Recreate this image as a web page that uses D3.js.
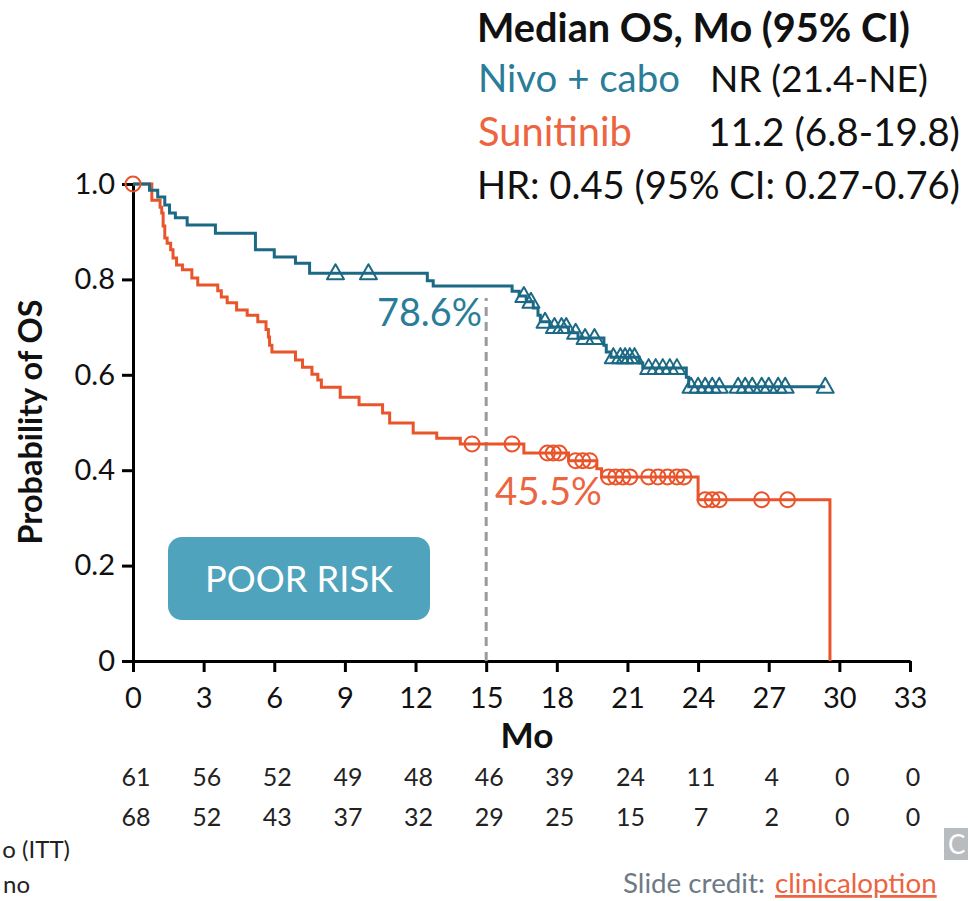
<!DOCTYPE html>
<html>
<head>
<meta charset="utf-8">
<script src="https://cdn.jsdelivr.net/npm/d3@7"></script>
<style>
  html, body { margin: 0; padding: 0; background: #fff; overflow: hidden; }
  svg { display: block; }
</style>
</head>
<body>
<svg id="chart" width="968" height="901"></svg>
<script>
// ---------------- DATA ----------------
const monthTicks = [0, 3, 6, 9, 12, 15, 18, 21, 24, 27, 30, 33];
const probTicks = [0, 0.2, 0.4, 0.6, 0.8, 1.0];
const probTickLabels = ["0", "0.2", "0.4", "0.6", "0.8", "1.0"];

// Kaplan-Meier steps: [month, survival after the step]
const nivoSteps = [
  [0, 1], [0.7, 0.987], [1.05, 0.973], [1.35, 0.956], [1.55, 0.939], [1.8, 0.929],
  [2.3, 0.914], [3.5, 0.897], [5.2, 0.862], [6.0, 0.847], [6.9, 0.834], [7.5, 0.813],
  [12.5, 0.797], [12.75, 0.786], [16.1, 0.775], [16.4, 0.765], [16.7, 0.753],
  [17.0, 0.740], [17.2, 0.725], [17.3, 0.711], [17.7, 0.700], [18.5, 0.688],
  [18.9, 0.677], [20.0, 0.662], [20.1, 0.648], [20.3, 0.637], [21.5, 0.625],
  [21.65, 0.614], [23.5, 0.595], [23.6, 0.575]
];
const nivoEnd = 29.4;
const nivoCensored = [8.6, 10.0, 16.6, 16.9, 17.5, 17.9, 18.2, 18.4, 18.8, 19.2, 19.6,
  20.4, 20.7, 20.9, 21.1, 21.3, 21.9, 22.2, 22.5, 22.8, 23.1, 23.7, 24.0, 24.3, 24.6,
  24.9, 25.7, 26.0, 26.3, 26.7, 27.0, 27.4, 27.7, 29.4];

const sunSteps = [
  [0, 1], [0.8, 0.966], [1.15, 0.951], [1.22, 0.939], [1.28, 0.912], [1.35, 0.887],
  [1.45, 0.876], [1.6, 0.862], [1.7, 0.845], [1.85, 0.830], [2.1, 0.820], [2.5, 0.803],
  [2.75, 0.788], [3.6, 0.776], [3.75, 0.763], [4.0, 0.751], [4.4, 0.736], [4.85, 0.725],
  [5.3, 0.711], [5.65, 0.695], [5.75, 0.679], [5.8, 0.662], [5.9, 0.648], [6.9, 0.631],
  [7.2, 0.616], [7.6, 0.601], [7.85, 0.589], [8.0, 0.574], [8.8, 0.553], [9.6, 0.537],
  [10.6, 0.520], [10.9, 0.499], [11.9, 0.478], [12.9, 0.467], [13.9, 0.455],
  [16.6, 0.436], [18.5, 0.420], [19.7, 0.403], [19.9, 0.386], [24.0, 0.338], [29.6, 0]
];
const sunEnd = 29.6;
const sunCensored = [0, 14.4, 16.1, 17.6, 17.85, 18.1, 18.8, 19.1, 19.4, 20.2, 20.5,
  20.8, 21.1, 21.9, 22.3, 22.7, 23.1, 23.4, 24.3, 24.6, 24.9, 26.7, 27.8];

const nivoAtRisk = [61, 56, 52, 49, 48, 46, 39, 24, 11, 4, 0, 0];
const sunAtRisk = [68, 52, 43, 37, 32, 29, 25, 15, 7, 2, 0, 0];

const landmarkMonth = 15;
const nivoLandmark = 0.786;
const sunLandmark = 0.455;

// ---------------- STYLE ----------------
const TEAL = "#1c6985";
const TEAL_TXT = "#2a7d99";
const ORANGE = "#e9542b";
const ORANGE_TXT = "#ec6440";
const FONT = "Lato, 'Open Sans', sans-serif";

const svg = d3.select("#chart");
const x = d3.scaleLinear().domain([0, 33]).range([133, 910]);
const y = d3.scaleLinear().domain([0, 1]).range([661, 184]);

function fit(sel, target) {
  const len = sel.node().getComputedTextLength();
  const fs = parseFloat(sel.attr("font-size"));
  sel.attr("font-size", (fs * target / len).toFixed(2));
  return sel;
}

function survAt(steps, t) {
  let s = steps[0][1];
  for (const st of steps) { if (st[0] <= t) s = st[1]; }
  return s;
}

// ---------------- AXES ----------------
const yAxis = svg.append("g")
  .attr("transform", `translate(${x(0)},0)`)
  .call(d3.axisLeft(y).tickValues(probTicks).tickSize(11).tickSizeOuter(0)
    .tickPadding(7).tickFormat((d, i) => probTickLabels[i]));
yAxis.select(".domain").attr("stroke", "#000").attr("stroke-width", 3);
yAxis.selectAll(".tick line").attr("stroke", "#000").attr("stroke-width", 3);
yAxis.selectAll(".tick text").attr("font-family", FONT).attr("font-size", 29)
  .attr("fill", "#111");

const xAxis = svg.append("g")
  .attr("transform", `translate(0,${y(0)})`)
  .call(d3.axisBottom(x).tickValues(monthTicks).tickSize(11).tickSizeOuter(0));
xAxis.select(".domain").attr("stroke", "#000").attr("stroke-width", 3);
xAxis.selectAll(".tick line").attr("stroke", "#000").attr("stroke-width", 3);
xAxis.selectAll(".tick text").attr("font-family", FONT).attr("font-size", 29)
  .attr("fill", "#111").attr("y", 47).attr("dy", null);

// axis titles
fit(svg.append("text").attr("x", 527).attr("y", 748).attr("text-anchor", "middle")
  .attr("font-family", FONT).attr("font-weight", "bold").attr("font-size", 28)
  .attr("fill", "#111").text("Mo"), 53);

fit(svg.append("text").attr("transform", "translate(42,422) rotate(-90)")
  .attr("text-anchor", "middle").attr("font-family", FONT).attr("font-weight", "bold")
  .attr("font-size", 26).attr("fill", "#111").text("Probability of OS"), 245);

// ---------------- POOR RISK BOX ----------------
svg.append("rect").attr("x", 168).attr("y", 537).attr("width", 262).attr("height", 83)
  .attr("rx", 14).attr("fill", "#4fa3bd");
fit(svg.append("text").attr("x", 299).attr("y", 592).attr("text-anchor", "middle")
  .attr("font-family", FONT).attr("font-size", 30).attr("fill", "#fff").text("POOR RISK"), 188);

// ---------------- LANDMARK ----------------
svg.append("line").attr("x1", x(landmarkMonth)).attr("x2", x(landmarkMonth))
  .attr("y1", y(0)).attr("y2", y(nivoLandmark) + 12)
  .attr("stroke", "#9a9a9a").attr("stroke-width", 3).attr("stroke-dasharray", "9,6");

// ---------------- CURVES ----------------
const line = d3.line().x(d => x(d[0])).y(d => y(d[1])).curve(d3.curveStepAfter);

function curvePts(steps, end) {
  const pts = steps.slice();
  const last = pts[pts.length - 1];
  if (last[0] < end) pts.push([end, last[1]]);
  return pts;
}

svg.append("path").datum(curvePts(sunSteps, sunEnd)).attr("d", line)
  .attr("fill", "none").attr("stroke", ORANGE).attr("stroke-width", 3);
svg.append("path").datum(curvePts(nivoSteps, nivoEnd)).attr("d", line)
  .attr("fill", "none").attr("stroke", TEAL).attr("stroke-width", 3);

// censor marks
svg.append("g").selectAll("circle").data(sunCensored).join("circle")
  .attr("cx", d => x(d)).attr("cy", d => y(survAt(sunSteps, d))).attr("r", 7.5)
  .attr("fill", "none").attr("stroke", ORANGE).attr("stroke-width", 2);

svg.append("g").selectAll("path").data(nivoCensored).join("path")
  .attr("transform", d => `translate(${x(d)},${y(survAt(nivoSteps, d))})`)
  .attr("d", "M-8.5,6 L0,-9 L8.5,6 Z")
  .attr("fill", "none").attr("stroke", TEAL).attr("stroke-width", 2)
  .attr("stroke-linejoin", "round");

// landmark labels
fit(svg.append("text").attr("x", 482).attr("y", 326).attr("text-anchor", "end")
  .attr("font-family", FONT).attr("font-size", 32).attr("fill", TEAL_TXT)
  .text(d3.format(".1f")(nivoLandmark * 100) + "%"), 105);
fit(svg.append("text").attr("x", 495).attr("y", 505)
  .attr("font-family", FONT).attr("font-size", 32).attr("fill", ORANGE_TXT)
  .text(d3.format(".1f")(sunLandmark * 100) + "%"), 107);

// ---------------- NUMBERS AT RISK ----------------
svg.append("g").selectAll("text").data(nivoAtRisk).join("text")
  .attr("x", (d, i) => x(monthTicks[i]) + 3).attr("y", 786).attr("text-anchor", "middle")
  .attr("font-family", FONT).attr("font-size", 25).attr("fill", "#222").text(d => d);
svg.append("g").selectAll("text").data(sunAtRisk).join("text")
  .attr("x", (d, i) => x(monthTicks[i]) + 3).attr("y", 826).attr("text-anchor", "middle")
  .attr("font-family", FONT).attr("font-size", 25).attr("fill", "#222").text(d => d);

// ---------------- HEADER ----------------
fit(svg.append("text").attr("x", 477).attr("y", 42).attr("font-family", FONT)
  .attr("font-weight", "bold").attr("font-size", 30).attr("fill", "#111")
  .text("Median OS, Mo (95% CI)"), 433);
fit(svg.append("text").attr("x", 478).attr("y", 92).attr("font-family", FONT)
  .attr("font-size", 30).attr("fill", TEAL_TXT).text("Nivo + cabo"), 202);
fit(svg.append("text").attr("x", 710).attr("y", 92).attr("font-family", FONT)
  .attr("font-size", 30).attr("fill", "#111").text("NR (21.4-NE)"), 218);
fit(svg.append("text").attr("x", 478).attr("y", 146).attr("font-family", FONT)
  .attr("font-size", 30).attr("fill", ORANGE_TXT).text("Sunitinib"), 154);
fit(svg.append("text").attr("x", 708).attr("y", 146).attr("font-family", FONT)
  .attr("font-size", 30).attr("fill", "#111").text("11.2 (6.8-19.8)"), 252);
fit(svg.append("text").attr("x", 477).attr("y", 199).attr("font-family", FONT)
  .attr("font-size", 30).attr("fill", "#111").text("HR: 0.45 (95% CI: 0.27-0.76)"), 483);

// ---------------- FOOTER FRAGMENTS ----------------
svg.append("text").attr("x", 70).attr("y", 858).attr("text-anchor", "end")
  .attr("font-family", FONT).attr("font-size", 24).attr("fill", "#222").text("o (ITT)");
svg.append("text").attr("x", 30).attr("y", 893).attr("text-anchor", "end")
  .attr("font-family", FONT).attr("font-size", 24).attr("fill", "#222").text("no");

svg.append("rect").attr("x", 944).attr("y", 828).attr("width", 30).attr("height", 32)
  .attr("fill", "#b9bcbf");
svg.append("text").attr("x", 948).attr("y", 854).attr("font-family", FONT)
  .attr("font-size", 26).attr("fill", "#fff").text("C");

const credit = fit(svg.append("text").attr("x", 623).attr("y", 893).attr("font-family", FONT)
  .attr("font-size", 24).attr("fill", "#6d7a86").text("Slide credit:"), 142);
svg.append("text").attr("x", 775).attr("y", 893).attr("font-family", FONT)
  .attr("font-size", credit.attr("font-size")).attr("fill", ORANGE_TXT)
  .attr("text-decoration", "underline")
  .text("clinicaloption");
</script>
</body>
</html>
